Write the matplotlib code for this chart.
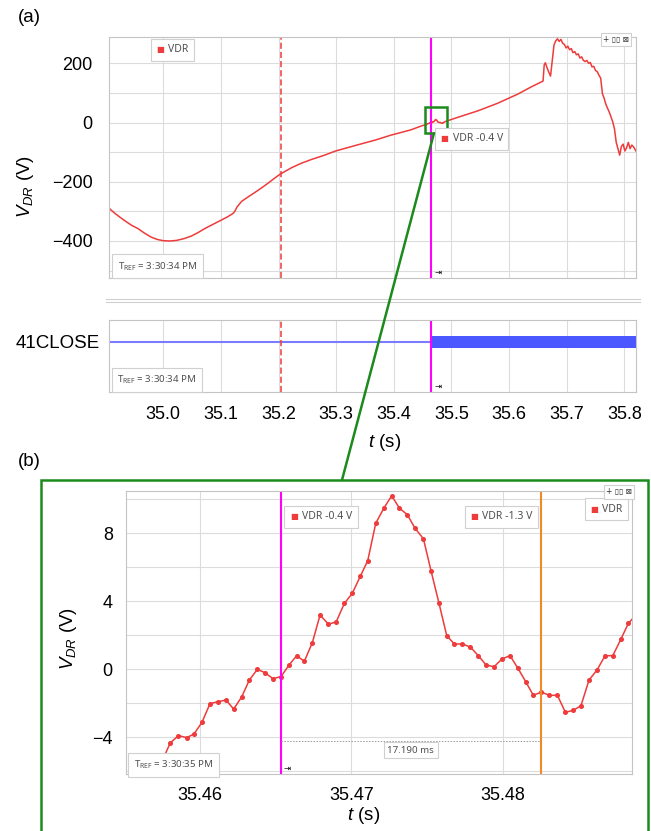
import matplotlib
matplotlib.use('Agg')
import matplotlib.pyplot as plt
import numpy as np
from matplotlib.patches import Rectangle, ConnectionPatch
from matplotlib.lines import Line2D
from matplotlib.ticker import MultipleLocator, FormatStrFormatter
from matplotlib.offsetbox import TextArea, HPacker, AnnotationBbox

plt.rcParams['font.family'] = ['Liberation Sans', 'DejaVu Sans']
plt.rcParams['mathtext.fontset'] = 'custom'
plt.rcParams['mathtext.rm'] = 'Liberation Sans'
plt.rcParams['mathtext.it'] = 'Liberation Sans:italic'

# (a) VDR overview (outside the zoom window)
t_vdr = [34.9063, 34.915, 34.925, 34.935, 34.945, 34.956, 34.967, 34.979, 34.990, 35.000,
         35.012, 35.023, 35.036, 35.049, 35.060, 35.072, 35.085, 35.098, 35.110, 35.121,
         35.124, 35.128, 35.136, 35.148, 35.159, 35.171, 35.183, 35.193, 35.203, 35.223,
         35.240, 35.258, 35.280, 35.299, 35.334, 35.368, 35.394, 35.429, 35.450,
         35.510, 35.545, 35.580, 35.615, 35.638, 35.659, 35.661, 35.663, 35.666, 35.669,
         35.672, 35.675, 35.678, 35.681, 35.684, 35.687, 35.690, 35.693, 35.696, 35.699,
         35.702, 35.705, 35.708, 35.711, 35.714, 35.717, 35.720, 35.723, 35.726, 35.729,
         35.732, 35.735, 35.738, 35.741, 35.744, 35.747, 35.750, 35.753, 35.756, 35.759,
         35.762, 35.765, 35.768, 35.771, 35.774, 35.777, 35.780, 35.783, 35.786, 35.789,
         35.792, 35.795, 35.798, 35.801, 35.804, 35.807, 35.810, 35.813, 35.816, 35.8203]
v_vdr = [-290, -305, -320, -334, -347, -358, -373, -387, -395, -399,
         -400, -398, -392, -383, -372, -358, -345, -332, -320, -307,
         -300, -285, -266, -250, -236, -220, -203, -188, -174, -152,
         -137, -124, -110, -96, -77, -59, -43, -25, -10,
         17, 39, 65, 96, 120, 140, 195, 202, 185, 170,
         157, 210, 262, 276, 283, 274, 281, 268, 264, 252,
         258, 246, 250, 236, 240, 229, 232, 218, 222, 210,
         206, 210, 200, 203, 188, 190, 176, 172, 160, 150,
         98, 82, 62, 48, 35, 18, 2, -22, -67, -88,
         -110, -80, -73, -96, -85, -67, -88, -76, -82, -96]

# (b) samples inside the zoom window
t_zoom = [35.45698, 35.45750, 35.45802, 35.45857, 35.45912, 35.45960, 35.46013, 35.46066,
          35.46117, 35.46172, 35.46222, 35.46275, 35.46326, 35.46379, 35.46429, 35.46482,
          35.46535, 35.46588, 35.46639, 35.46689, 35.46742, 35.46793, 35.46848, 35.46899,
          35.46954, 35.47006, 35.47059, 35.47108, 35.47161, 35.47214, 35.47266, 35.47317,
          35.47370, 35.47421, 35.47476, 35.47526, 35.47579, 35.47630, 35.47680, 35.47733,
          35.47786, 35.47839, 35.47890, 35.47943, 35.47995, 35.48048, 35.48099, 35.48152,
          35.48202, 35.48255, 35.48308, 35.48361, 35.48414, 35.48467, 35.48517, 35.48570,
          35.48623, 35.48676, 35.48727, 35.48780, 35.48830, 35.48880]
v_zoom = [-6.9, -5.4, -4.35, -3.90, -4.02, -3.81, -3.12, -2.02,
          -1.91, -1.81, -2.34, -1.63, -0.63, 0.00, -0.20, -0.55,
          -0.43, 0.25, 0.80, 0.47, 1.56, 3.19, 2.66, 2.78,
          3.88, 4.47, 5.47, 6.39, 8.59, 9.47, 10.21, 9.49,
          9.09, 8.29, 7.68, 5.80, 3.88, 1.98, 1.49, 1.49,
          1.31, 0.80, 0.25, 0.15, 0.61, 0.80, 0.08, -0.73,
          -1.53, -1.34, -1.53, -1.53, -2.53, -2.41, -2.14, -0.63,
          -0.04, 0.80, 0.80, 1.76, 2.70, 3.2]

trigger_t = 35.2045
cursor_a = 35.46533
delta_ms = 17.190
cursor_b = cursor_a + delta_ms / 1000
cursor_vals = [-0.4, -1.3]

# 41CLOSE digital channel: switch times and state per interval
close_t = [34.9063, 35.46533, 35.8203]
close_state = [0, 1]

tref_a = '3:30:34 PM'
tref_b = '3:30:35 PM'

RED = '#ee3b3b'
MAGENTA = '#ff00ff'
ORANGE = '#f08a24'
GREEN = '#1c8a1c'
GRID = '#dcdcdc'
SPINE = '#c4c4c4'
W, H = 651, 831


def box_px(l, t, r, b):
    return [l / W, 1 - b / H, (r - l) / W, (b - t) / H]


def style(ax):
    for s in ax.spines.values():
        s.set_color(SPINE)
        s.set_linewidth(0.8)
    ax.tick_params(which='both', length=0, labelsize=13)
    ax.grid(True, which='both', color=GRID, lw=0.8)
    ax.set_axisbelow(True)


def tag(ax, xy, text, coords='axes fraction', align=(0, 0.5), shift=(0, 0),
        mark=True, size=7.5, color='#505050', pad=0.4, family='Noto Sans'):
    parts = []
    if mark:
        parts.append(TextArea('■', textprops=dict(color=RED, size=6, family='DejaVu Sans')))
    parts.append(TextArea(text, textprops=dict(color=color, size=size, family=[family, 'DejaVu Sans'])))
    packed = HPacker(children=parts, align='center', pad=0, sep=3)
    ab = AnnotationBbox(packed, xy, xybox=shift, xycoords=coords, boxcoords='offset points',
                        box_alignment=align, pad=pad,
                        bboxprops=dict(fc='white', ec='#d0d0d0', lw=0.8), zorder=6)
    ax.add_artist(ab)


def pin(ax, x):
    ax.annotate('⇥', xy=(x, 0), xycoords=('data', 'axes fraction'), xytext=(2, 1),
                textcoords='offset points', fontsize=6, family='DejaVu Sans', va='bottom')


fig = plt.figure(figsize=(W / 100, H / 100), dpi=100)
ax1 = fig.add_axes(box_px(109.3, 37.3, 636, 278.3))
ax2 = fig.add_axes(box_px(109.3, 320, 636, 392.3), sharex=ax1)
ax3 = fig.add_axes(box_px(126, 491, 631.7, 774))

# ---- (a) top: VDR overview ----
t_all = np.array(t_vdr + t_zoom)
v_all = np.array(v_vdr + v_zoom)
order = np.argsort(t_all)
style(ax1)
ax1.plot(t_all[order], v_all[order], color=RED, lw=1.1)
ax1.axvline(trigger_t, color=RED, lw=1.1, ls=(0, (4, 2)))
ax1.axvline(cursor_a, color=MAGENTA, lw=1.5)
ax1.set_xlim(34.9063, 35.8203)
ax1.set_ylim(-526, 288)
ax1.xaxis.set_major_locator(MultipleLocator(0.1))
ax1.yaxis.set_major_locator(MultipleLocator(200))
ax1.yaxis.set_minor_locator(MultipleLocator(100))
ax1.tick_params(labelbottom=False)
ax1.tick_params(axis='y', pad=12)
ax1.set_ylabel(r'$V_{DR}$ (V)', fontsize=13.5)
ax1.yaxis.set_label_coords(-0.139, 0.379)
tag(ax1, (0.0892, 0.949), 'VDR')
tag(ax1, (cursor_a, 0.579), f'VDR {cursor_vals[0]:.1f} V', coords=('data', 'axes fraction'), shift=(6.6, 0))
tag(ax1, (0.0165, 0.050), 'T$_{\\mathregular{REF}}$ = ' + tref_a, mark=False, size=7)
tag(ax1, (0.9875, 0.991), '+ ▯▯ ⊠', align=(1, 0.5), mark=False, size=5.5, color='#333333',
    pad=0.15, family='DejaVu Sans')
pin(ax1, cursor_a)
ax1.add_patch(Rectangle((35.4535, -36), 35.4930 - 35.4535, 87, fill=False, ec=GREEN, lw=1.8, zorder=5))

# ---- (a) bottom: 41CLOSE ----
style(ax2)
ax2.grid(False, axis='y', which='both')
for t0, t1, s in zip(close_t[:-1], close_t[1:], close_state):
    if s:
        ax2.fill_between([t0, t1], 0.617, 0.783, color='#4b58ff', lw=0)
    else:
        ax2.plot([t0, t1], [0.70, 0.70], color='#7b7bff', lw=1.5)
ax2.axvline(trigger_t, color=RED, lw=1.1, ls=(0, (4, 2)))
ax2.axvline(cursor_a, color=MAGENTA, lw=1.5)
ax2.set_ylim(0, 1)
ax2.set_yticks([0.70])
ax2.set_yticklabels(['41CLOSE'])
ax2.tick_params(axis='y', pad=6.5, labelsize=13.5)
ax2.tick_params(axis='x', pad=10)
ax2.xaxis.set_major_formatter(FormatStrFormatter('%.1f'))
ax2.set_xlabel(r'$t$ (s)', fontsize=13.5)
ax2.xaxis.set_label_coords(0.523, -0.545)
tag(ax2, (0.0152, 0.174), 'T$_{\\mathregular{REF}}$ = ' + tref_a, mark=False, size=7)
pin(ax2, cursor_a)

# ---- (b) zoom ----
style(ax3)
ax3.plot(t_zoom, v_zoom, color=RED, lw=1.1, marker='o', ms=2.6)
ax3.axvline(cursor_a, color=MAGENTA, lw=1.5)
ax3.axvline(cursor_b, color=ORANGE, lw=1.5)
ax3.plot([cursor_a, cursor_b], [-4.2, -4.2], color='#9a9a9a', lw=0.7, ls=(0, (1.5, 1.5)))
ax3.set_xlim(35.45511, 35.48852)
ax3.set_ylim(-6.16, 10.49)
ax3.xaxis.set_major_locator(MultipleLocator(0.01))
ax3.xaxis.set_major_formatter(FormatStrFormatter('%.2f'))
ax3.yaxis.set_major_locator(MultipleLocator(4))
ax3.yaxis.set_minor_locator(MultipleLocator(2))
ax3.tick_params(axis='y', pad=9.5)
ax3.tick_params(axis='x', pad=9)
ax3.set_ylabel(r'$V_{DR}$ (V)', fontsize=13.5)
ax3.yaxis.set_label_coords(-0.093, 0.48)
ax3.set_xlabel(r'$t$ (s)', fontsize=13.5)
ax3.xaxis.set_label_coords(0.469, -0.1095)
tag(ax3, (cursor_a, 0.909), f'VDR {cursor_vals[0]:.1f} V', coords=('data', 'axes fraction'), shift=(6.6, 0))
tag(ax3, (cursor_b, 0.909), f'VDR {cursor_vals[1]:.1f} V', coords=('data', 'axes fraction'),
    align=(1, 0.5), shift=(-6, 0))
tag(ax3, (0.982, 0.935), 'VDR', align=(1, 0.5))
tag(ax3, ((cursor_a + cursor_b) / 2, -4.75), f'{delta_ms:.3f} ms', coords='data', align=(0.5, 0.5),
    mark=False, size=7, pad=0.25)
tag(ax3, (0.0156, 0.033), 'T$_{\\mathregular{REF}}$ = ' + tref_b, mark=False, size=7)
tag(ax3, (1.0013, 0.9965), '+ ▯▯ ⊠', align=(1, 0.5), mark=False, size=5.5, color='#333333',
    pad=0.15, family='DejaVu Sans')
pin(ax3, cursor_a)

# separator between the two (a) channels
for yy in (299, 302):
    fig.add_artist(Line2D([106 / W, 640 / W], [1 - yy / H, 1 - yy / H], color='#cfcfcf', lw=0.8))

# zoom frame and connector
fig.add_artist(Rectangle((41 / W, -0.05), (648.3 - 41) / W, 1 - 480 / H + 0.05,
                         transform=fig.transFigure, fill=False, ec=GREEN, lw=1.8))
con = ConnectionPatch(xyA=(35.4697, -36), coordsA=ax1.transData,
                      xyB=(342 / W, 1 - 480 / H), coordsB=fig.transFigure, color=GREEN, lw=1.8, zorder=7)
fig.add_artist(con)

fig.text(18 / W, 1 - 18 / H, '(a)', fontsize=13.5, va='center')
fig.text(18 / W, 1 - 462 / H, '(b)', fontsize=13.5, va='center')

fig.savefig('out.png', dpi=100)
